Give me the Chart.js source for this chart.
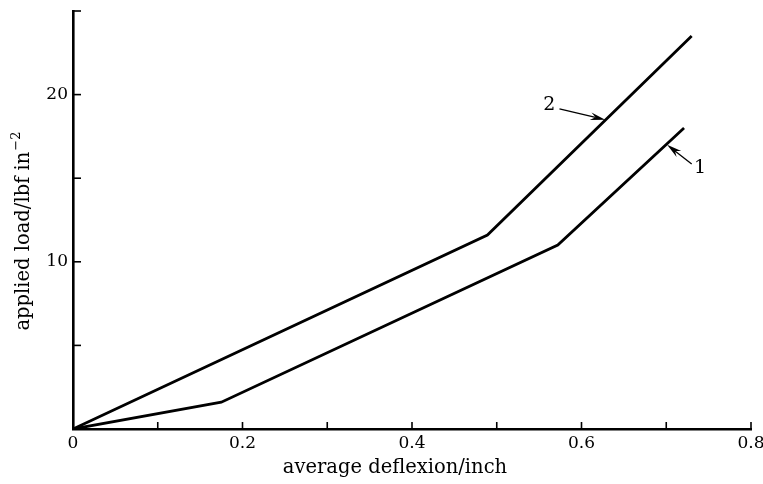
<!DOCTYPE html>
<html>
<head>
<meta charset="utf-8">
<script src="https://cdn.jsdelivr.net/npm/chart.js@4.4.0/dist/chart.umd.min.js"></script>
<style>
  html, body { margin: 0; padding: 0; background: #fff; }
  #wrap { width: 763px; height: 484px; }
</style>
</head>
<body>
<div id="wrap"><canvas id="chart" width="763" height="484"></canvas></div>
<script>
// curve 1 (lower) and curve 2 (upper)
const deflexion1 = [0, 0.175, 0.572, 0.721];
const load1 = [0, 1.6, 11.0, 18.0];
const deflexion2 = [0, 0.489, 0.730];
const load2 = [0, 11.6, 23.5];

const xTickLabels = ["0", "0.2", "0.4", "0.6", "0.8"];
const yTickLabels = ["10", "20"];

const xTitle = "average deflexion/inch";
const yTitle = "applied load/lbf in";
const yTitleSup = "\u22122";

// curve labels with arrows (data coordinates)
const curveLabels = [
  { text: "2", at: [0.562, 19.4], from: [0.574, 19.15], to: [0.628, 18.5] },
  { text: "1", at: [0.740, 15.6], from: [0.730, 15.85], to: [0.701, 17.0] },
];

const INK = "#000";
const FONT = "'DejaVu Serif', serif";

function toPoints(xs, ys) {
  return xs.map((x, i) => ({ x: x, y: ys[i] }));
}

// inward ticks, axis titles and labels
const decorations = {
  id: "decorations",
  afterDraw(chart) {
    const { ctx, chartArea, scales } = chart;
    const xs = scales.x, ys = scales.y;
    ctx.save();
    ctx.strokeStyle = INK;
    ctx.lineWidth = 1.6;

    // x ticks pointing up
    xs.ticks.forEach((t) => {
      const px = xs.getPixelForValue(t.value);
      if (t.value === 0) return;
      ctx.beginPath();
      ctx.moveTo(px, chartArea.bottom);
      ctx.lineTo(px, chartArea.bottom - 7);
      ctx.stroke();
    });
    // y ticks pointing right
    ys.ticks.forEach((t) => {
      const py = ys.getPixelForValue(t.value);
      if (t.value === 0) return;
      ctx.beginPath();
      ctx.moveTo(chartArea.left, py);
      ctx.lineTo(chartArea.left + 8, py);
      ctx.stroke();
    });

    // axis titles
    ctx.fillStyle = INK;
    ctx.font = "19.5px " + FONT;
    ctx.textAlign = "center";
    ctx.textBaseline = "middle";
    ctx.fillText(xTitle, 395, 468);

    ctx.save();
    ctx.translate(24, 231);
    ctx.rotate(-Math.PI / 2);
    ctx.font = "19.5px " + FONT;
    const mainW = ctx.measureText(yTitle).width;
    ctx.font = "13px " + FONT;
    const supW = ctx.measureText(yTitleSup).width;
    const startX = -(mainW + supW + 1) / 2;
    ctx.textAlign = "left";
    ctx.font = "19.5px " + FONT;
    ctx.fillText(yTitle, startX, 0);
    ctx.font = "13px " + FONT;
    ctx.fillText(yTitleSup, startX + mainW + 1, -7);
    ctx.restore();

    // curve labels and arrows
    ctx.font = "19px " + FONT;
    ctx.textAlign = "center";
    curveLabels.forEach((c) => {
      const tx = xs.getPixelForValue(c.at[0]);
      const ty = ys.getPixelForValue(c.at[1]);
      ctx.fillText(c.text, tx, ty);
      const x1 = xs.getPixelForValue(c.from[0]);
      const y1 = ys.getPixelForValue(c.from[1]);
      const x2 = xs.getPixelForValue(c.to[0]);
      const y2 = ys.getPixelForValue(c.to[1]);
      const ang = Math.atan2(y2 - y1, x2 - x1);
      const cs = Math.cos(ang), sn = Math.sin(ang);
      ctx.lineWidth = 1.3;
      ctx.beginPath();
      ctx.moveTo(x1, y1);
      ctx.lineTo(x2 - 10 * cs, y2 - 10 * sn);
      ctx.stroke();
      ctx.beginPath();
      ctx.moveTo(x2, y2);
      ctx.lineTo(x2 - 15 * cs + 3.8 * sn, y2 - 15 * sn - 3.8 * cs);
      ctx.lineTo(x2 - 10 * cs, y2 - 10 * sn);
      ctx.lineTo(x2 - 15 * cs - 3.8 * sn, y2 - 15 * sn + 3.8 * cs);
      ctx.closePath();
      ctx.fill();
    });
    ctx.restore();
  },
};

const lineStyle = {
  showLine: true,
  borderColor: INK,
  borderWidth: 2.8,
  pointRadius: 0,
  fill: false,
  tension: 0,
};

new Chart(document.getElementById("chart"), {
  type: "scatter",
  data: {
    datasets: [
      { label: "1", data: toPoints(deflexion1, load1), ...lineStyle },
      { label: "2", data: toPoints(deflexion2, load2), ...lineStyle },
    ],
  },
  options: {
    responsive: false,
    animation: false,
    layout: { padding: { top: 11, right: 12, left: 0, bottom: 0 } },
    plugins: { legend: { display: false }, tooltip: { enabled: false } },
    scales: {
      x: {
        type: "linear",
        min: 0,
        max: 0.8,
        afterFit(scale) {
          scale.height = 55;
          scale.paddingLeft = 0;
          scale.paddingRight = 0;
        },
        grid: { display: false, drawTicks: false },
        border: { display: true, color: INK, width: 2.6 },
        ticks: {
          stepSize: 0.1,
          padding: 4,
          color: INK,
          maxRotation: 0,
          autoSkip: false,
          font: { family: FONT, size: 17 },
          callback: (v) => {
            const s = String(Math.round(v * 10) / 10);
            return xTickLabels.includes(s) ? s : "";
          },
        },
      },
      y: {
        type: "linear",
        min: 0,
        max: 25,
        afterFit(scale) {
          scale.width = 73;
          scale.paddingTop = 0;
          scale.paddingBottom = 0;
        },
        grid: { display: false, drawTicks: false },
        border: { display: true, color: INK, width: 2.6 },
        ticks: {
          stepSize: 5,
          padding: 5,
          color: INK,
          autoSkip: false,
          font: { family: FONT, size: 17 },
          callback: (v) => (yTickLabels.includes(String(v)) ? String(v) : ""),
        },
      },
    },
  },
  plugins: [decorations],
});
</script>
</body>
</html>
